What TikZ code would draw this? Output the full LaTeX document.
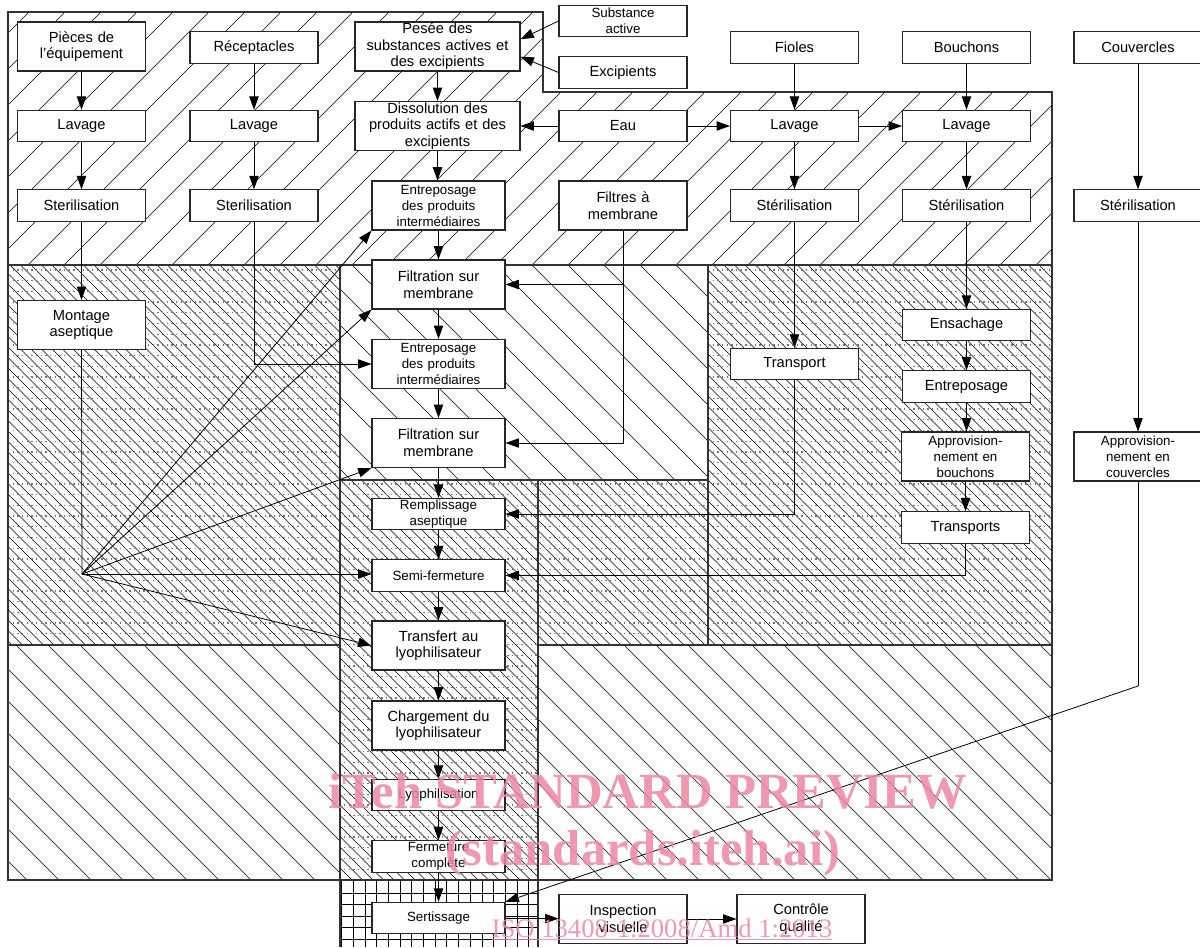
\documentclass[tikz,border=0pt]{standalone}
\usepackage{fontspec}
\setmainfont{Liberation Sans}
\newfontfamily\wmfont{Liberation Serif}
\usetikzlibrary{arrows.meta}
\definecolor{wmpink}{RGB}{236,134,166}
\definecolor{dotgray}{RGB}{115,115,115}
\begin{document}
\begin{tikzpicture}[x=0.75pt, y=-0.75pt,
  box/.style={draw=black!85, fill=white, line width=0.8pt, align=center, inner sep=0pt,
    font=\fontsize{11}{12.4}\selectfont},
  small/.style={font=\fontsize{10}{12}\selectfont},
  wa/.style={minimum width=96pt, text width=92pt},
  wb/.style={minimum width=123.75pt, text width=119pt},
  wc/.style={minimum width=99.75pt, text width=96pt},
  ha/.style={minimum height=23.5pt},
  hb/.style={minimum height=36.75pt},
  arr/.style={-{Triangle[length=10pt,width=7pt]}, line width=0.6pt},
  link/.style={line width=0.6pt},
  hatch/.style={line width=0.5pt},
  fine/.style={line width=0.5pt},
  dots/.style={dotgray, line width=1pt, dash pattern=on 1pt off 2.5pt},
  gridline/.style={line width=0.6pt},
  zone/.style={draw=black!80, line width=0.8pt},
  wm/.style={text=wmpink, opacity=0.85, inner sep=0pt, anchor=base}]
\useasboundingbox (0,0) rectangle (1200,947);

% zones
\begin{scope}
  \clip (8,12) -- (543,12) -- (543,92) -- (1052,92) -- (1052,265) -- (8,265) -- cycle;
  \foreach \i in {-260,-224,...,1060} \draw[hatch] (\i,265) -- ++(260,-260);
\end{scope}
\begin{scope}
  \clip (340,265) rectangle (708,480);
  \foreach \i in {100,136,...,708} \draw[hatch] (\i,265) -- ++(220,220);
\end{scope}
\begin{scope}
  \clip (8,645) rectangle (340,880) (538,645) rectangle (1052,880);
  \foreach \i in {-240,-208,...,1052} \draw[hatch] (\i,645) -- ++(240,240);
\end{scope}
\begin{scope}
  \clip (8,265) -- (340,265) -- (340,480) -- (708,480) -- (708,265) -- (1052,265)
    -- (1052,645) -- (538,645) -- (538,880) -- (340,880) -- (340,645) -- (8,645) -- cycle;
  \foreach \i in {-620,-609.5,...,1052} \draw[fine] (\i,265) -- ++(620,620);
  \foreach \j in {270,280.7,...,880} \draw[dots] (8,\j) -- (1052,\j);
\end{scope}
\begin{scope}
  \clip (340,880) rectangle (538,947);
  \foreach \i in {341.5,353.2,...,538} \draw[gridline] (\i,880) -- (\i,947);
  \foreach \j in {893,904.5,...,947} \draw[gridline] (340,\j) -- (538,\j);
\end{scope}
\draw[zone] (8,12) -- (543,12) -- (543,92) -- (1052,92) -- (1052,880) -- (8,880) -- cycle;
\draw[zone] (8,265) -- (1052,265) (8,645) -- (340,645) (538,645) -- (1052,645)
  (340,265) -- (340,947) (538,480) -- (538,947) (340,480) -- (708,480) (708,265) -- (708,645);

% left columns
\node[box,wa,hb] (pieces) at (81.5,46.5) {Pièces de\\l’équipement};
\node[box,wa,ha] (lav1) at (81.5,126) {Lavage};
\node[box,wa,ha] (ster1) at (81.5,205.5) {Sterilisation};
\node[box,wa,hb] (montage) at (81.5,325) {Montage\\aseptique};
\node[box,wa,ha] (recep) at (254,47.5) {Réceptacles};
\node[box,wa,ha] (lav2) at (254,126) {Lavage};
\node[box,wa,ha] (ster2) at (254,205.5) {Sterilisation};

% product line
\node[box,wb,hb] (pesee) at (437.5,46.5) {Pesée des\\substances actives et\\des excipients};
\node[box,wb,hb] (dissol) at (437.5,126) {Dissolution des\\produits actifs et des\\excipients};
\node[box,wc,hb,small] (entr1) at (438.5,205.5) {Entreposage\\des produits\\intermédiaires};
\node[box,wc,hb] (filt1) at (438.5,284.5) {Filtration sur\\membrane};
\node[box,wc,hb,small] (entr2) at (438.5,364) {Entreposage\\des produits\\intermédiaires};
\node[box,wc,hb] (filt2) at (438.5,443) {Filtration sur\\membrane};
\node[box,wc,ha,small] (rempl) at (438.5,514) {Remplissage\\aseptique};
\node[box,wc,ha,small] (semi) at (438.5,575.5) {Semi-fermeture};
\node[box,wc,hb] (transf) at (438.5,645.5) {Transfert au\\lyophilisateur};
\node[box,wc,hb] (charg) at (438.5,725.5) {Chargement du\\lyophilisateur};
\node[box,wc,ha,small] (lyo) at (438.5,795) {Lyophilisation};
\node[box,wc,ha,small] (ferm) at (438.5,856.5) {Fermeture\\complète};
\node[box,wc,ha,small] (sert) at (438.5,918) {Sertissage};

\node[box,wa,ha,small] (subst) at (623,21) {Substance\\active};
\node[box,wa,ha] (excip) at (623,72.5) {Excipients};
\node[box,wa,ha] (eau) at (623,126) {Eau};
\node[box,wa,hb] (filtres) at (623,205.5) {Filtres à\\membrane};
\node[box,wa,hb] (insp) at (623,919) {Inspection\\visuelle};
\node[box,wa,hb] (ctrl) at (801,919) {Contrôle\\qualité};

% vials, stoppers, caps
\node[box,wa,ha] (fioles) at (794.5,47.5) {Fioles};
\node[box,wa,ha] (lavf) at (794.5,126) {Lavage};
\node[box,wa,ha] (sterf) at (794.5,205.5) {Stérilisation};
\node[box,wa,ha] (transp) at (794.5,364) {Transport};
\node[box,wa,ha] (bouch) at (966.5,47.5) {Bouchons};
\node[box,wa,ha] (lavb) at (966.5,126) {Lavage};
\node[box,wa,ha] (sterb) at (966.5,205.5) {Stérilisation};
\node[box,wa,ha] (ensach) at (966.5,325) {Ensachage};
\node[box,wa,ha] (entrb) at (966.5,386.5) {Entreposage};
\node[box,wa,hb,small] (appb) at (965.5,456.5) {Approvision-\\nement en\\bouchons};
\node[box,wa,ha] (transpb) at (965.5,527.5) {Transports};
\node[box,wa,ha] (couv) at (1138,47.5) {Couvercles};
\node[box,wa,ha] (sterc) at (1138,205.5) {Stérilisation};
\node[box,wa,hb,small] (appc) at (1138,456.5) {Approvision-\\nement en\\couvercles};

\coordinate (jct) at (82,574);
\coordinate (bend) at (1138,686);

\foreach \a/\b in {pieces/lav1, lav1/ster1, ster1/montage, recep/lav2, lav2/ster2,
    pesee/dissol, dissol/entr1, entr1/filt1, filt1/entr2, entr2/filt2, filt2/rempl,
    rempl/semi, semi/transf, transf/charg, charg/lyo, lyo/ferm, ferm/sert,
    fioles/lavf, lavf/sterf, sterf/transp, bouch/lavb, lavb/sterb, sterb/ensach,
    ensach/entrb, entrb/appb, appb/transpb, couv/sterc, sterc/appc}
  \draw[arr] (\a.south) -- (\a.south |- \b.north);

\draw[link] (montage.south) -- (jct);
\draw[arr] (jct) -- (entr1.south west);
\draw[arr] (jct) -- (filt1.south west);
\draw[arr] (jct) -- (filt2.south west);
\draw[arr] (jct) -- (jct -| semi.west);
\draw[arr] (jct) -- (transf.west);
\draw[arr] (ster2.south) |- (entr2.west);

\draw[arr] (subst.west) -- (pesee.5);
\draw[arr] (excip.west) -- (pesee.-7);
\draw[arr] (eau) -- (dissol);
\draw[arr] (eau) -- (lavf);
\draw[arr] (lavf) -- (lavb);
\draw[arr] (filtres.south) |- (filt1.east);
\draw[arr] (filtres.south) |- (filt2.east);
\draw[arr] (transp.south) |- (rempl.east);
\draw[arr] (transpb.south) |- (semi.east);
\draw[link] (appc.south) -- (bend);
\draw[arr] (bend) -- (sert.north east);
\draw[arr] (sert) -- (insp);
\draw[arr] (insp) -- (ctrl);

% watermark
\node[wm, font=\wmfont\bfseries\fontsize{38}{40}\selectfont] (wm1) at (648,808) {iTeh STANDARD PREVIEW};
\node[wm, font=\wmfont\bfseries\fontsize{38}{40}\selectfont] (wm2) at (643,865) {(standards.iteh.ai)};
\node[wm, font=\wmfont\fontsize{20}{22}\selectfont] (wm3) at (662,937) {\underline{ISO 13408-1:2008/Amd 1:2013}};
\end{tikzpicture}
\end{document}
